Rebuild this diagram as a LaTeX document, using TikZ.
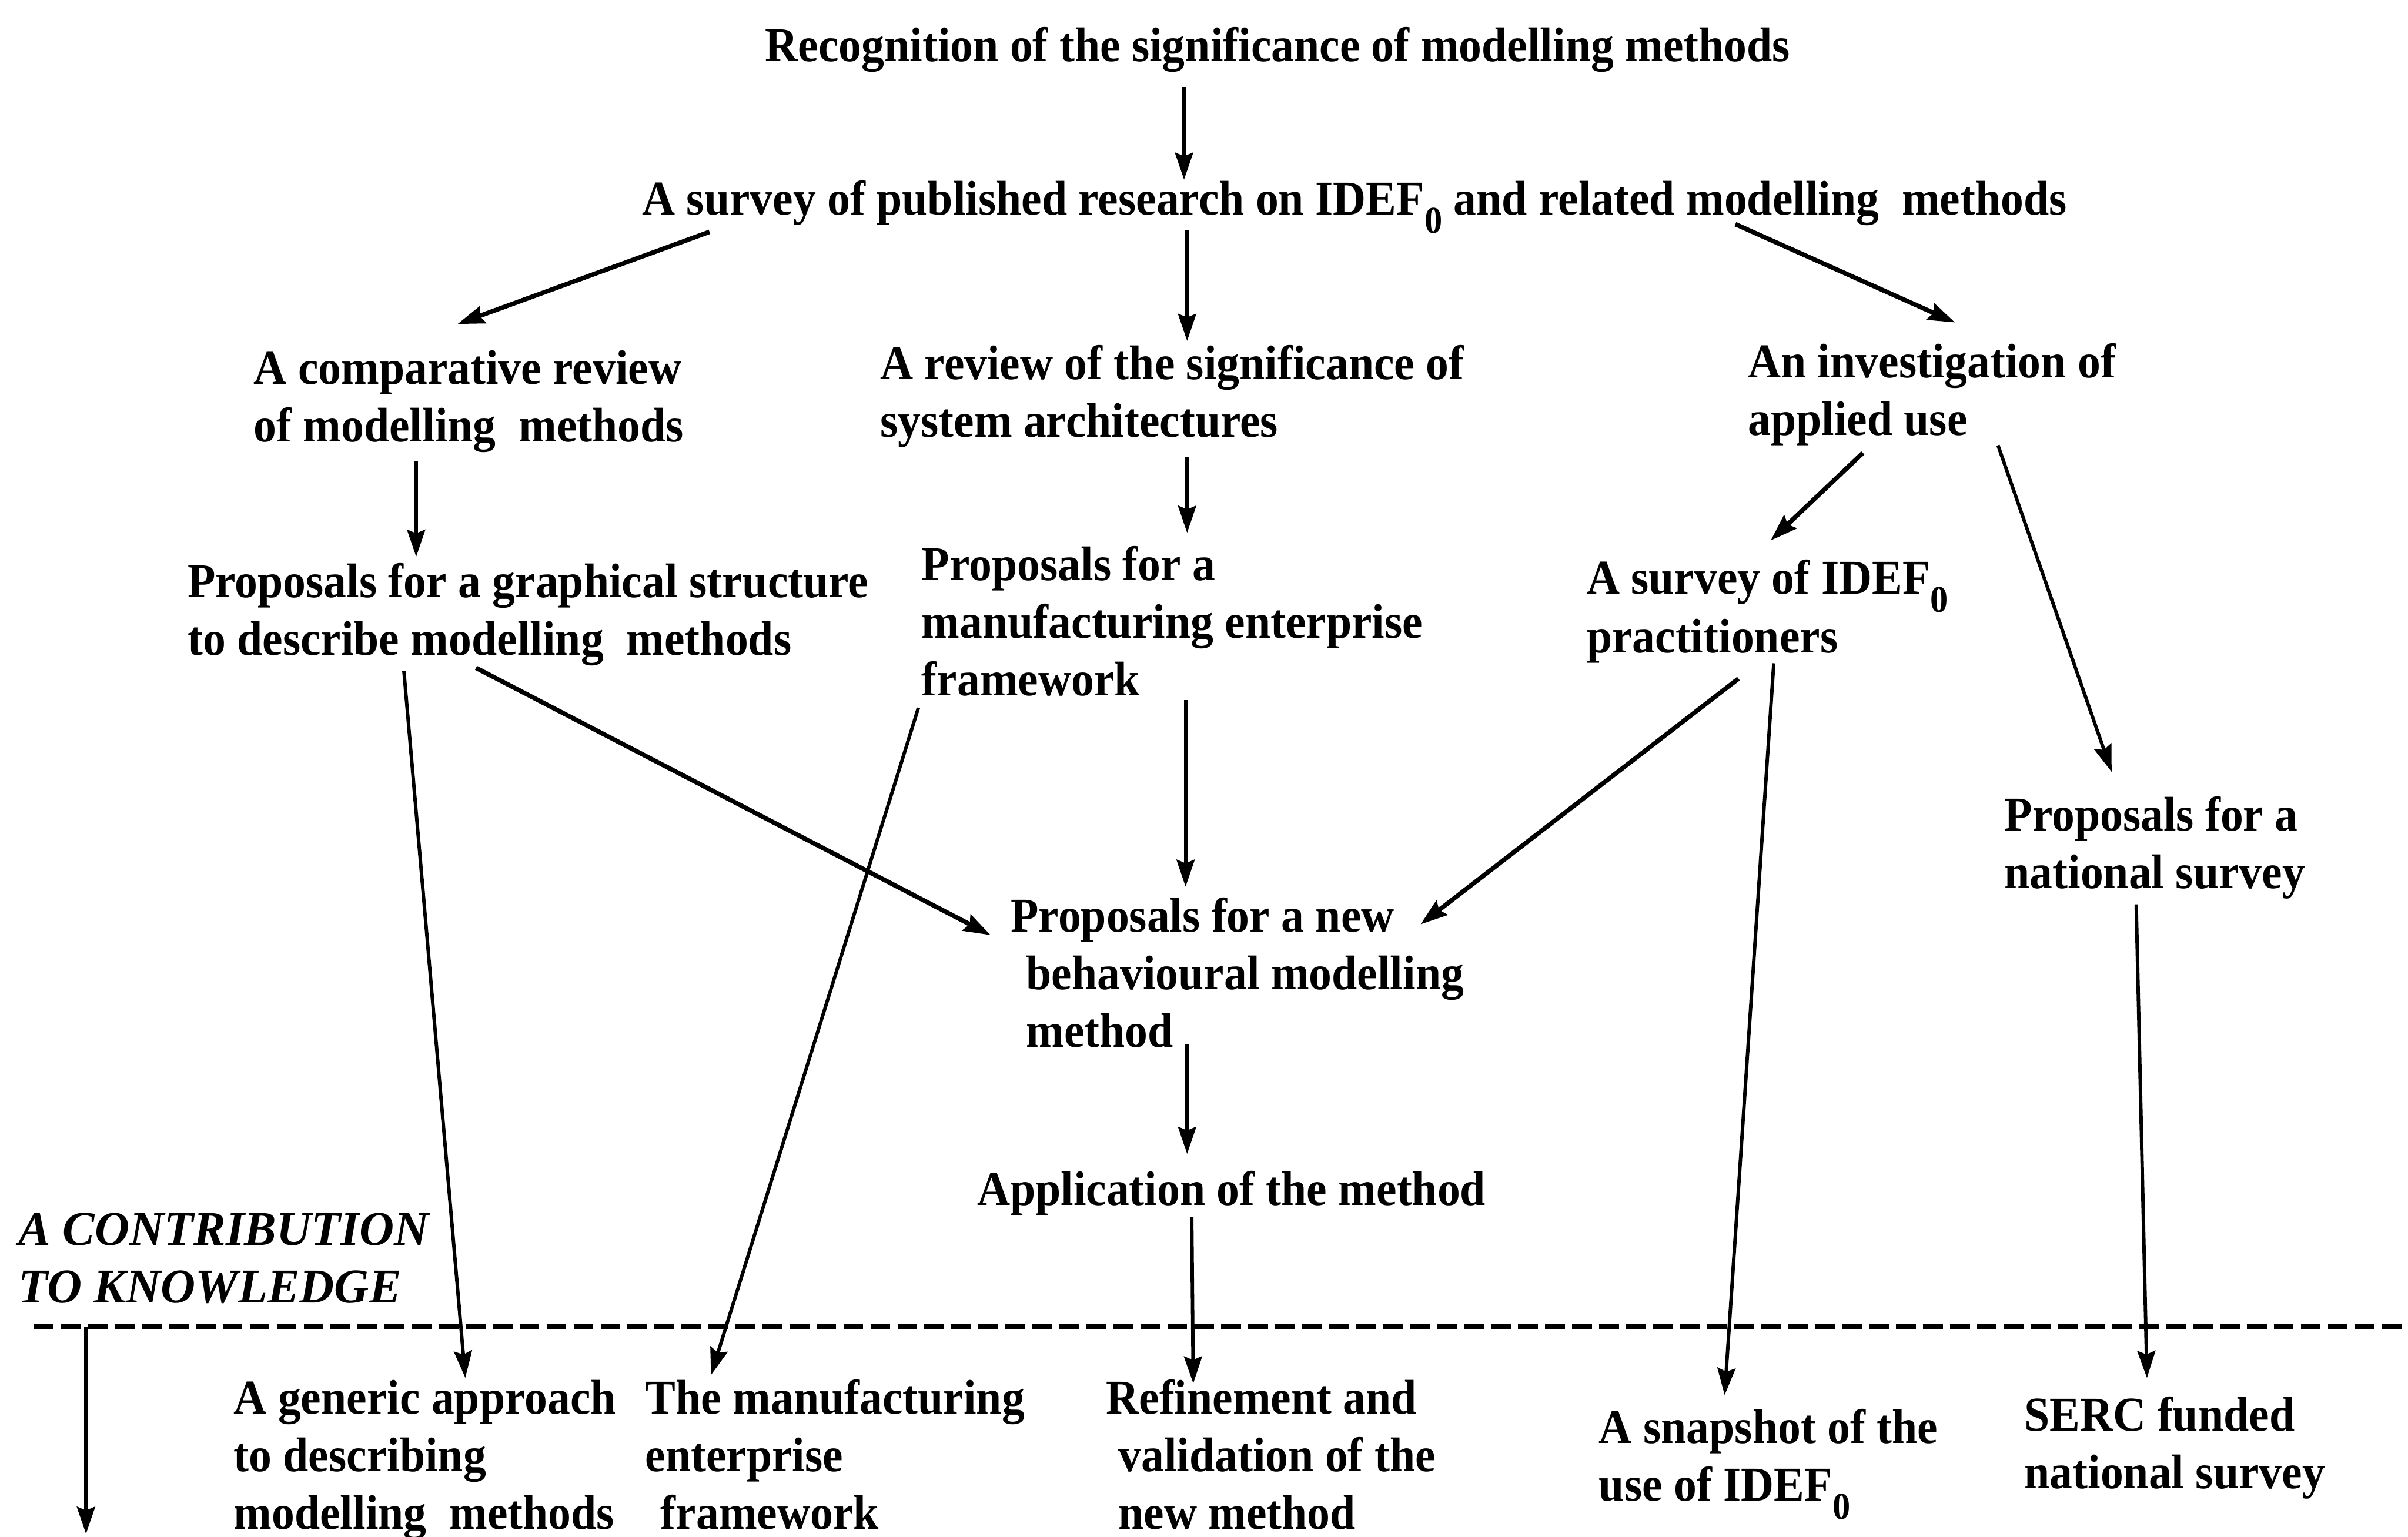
\documentclass[tikz,border=0pt]{standalone}
\usepackage{fontspec}
\setmainfont{Liberation Serif}[FakeStretch=0.94]
\newfontfamily\slantfont{Liberation Serif}[FakeStretch=0.99]
\usetikzlibrary{arrows.meta}
% IDEF with its lowered zero
\newcommand\idefzero{IDEF\raisebox{-10pt}{\fontsize{21}{21}\selectfont 0}}
% block of left-aligned lines whose baseline is that of the first line
\newcommand\lines[1]{\begin{tabular}[t]{@{}l@{}}#1\end{tabular}}
\begin{document}
\begin{tikzpicture}[x=0.03cm,y=-0.03cm,
  txt/.style={inner sep=0pt, anchor=base west,
              font=\bfseries\fontsize{27}{32}\selectfont},
  arr/.style={line width=1.9pt, -{Stealth[length=15pt,width=10pt,inset=2pt]}},
  arrb/.style={arr, line width=2.5pt},
  kline/.style={line width=2.4pt, dash pattern=on 11pt off 4pt}]
\useasboundingbox (0,0) rectangle (1568,1001);

% ---- research steps ----
\node[txt, anchor=base] (t1) at (832,40) {Recognition of the significance of modelling methods};
\node[txt] (t2) at (418,140) {A survey of published research on \idefzero{} and related modelling\ \ methods};
\node[txt] (cmp) at (165,250) {\lines{A comparative review\\of modelling\ \ methods}};
\node[txt] (rev) at (573,247) {\lines{A review of the significance of\\system architectures}};
\node[txt] (inv) at (1138,246) {\lines{An investigation of\\applied use}};
\node[txt] (gra) at (122,389) {\lines{Proposals for a graphical structure\\to describe modelling\ \ methods}};
\node[txt] (man) at (600,378) {\lines{Proposals for a\\manufacturing enterprise\\framework}};
\node[txt] (sur) at (1033,387) {\lines{A survey of \idefzero\\practitioners}};
\node[txt] (nat) at (1305,541) {\lines{Proposals for a\\national survey}};
\node[txt] (new) at (658,607) {\lines{Proposals for a new\\\hspace*{0.3cm}behavioural modelling\\\hspace*{0.3cm}method}};
\node[txt] (app) at (636,785) {Application of the method};

% ---- contributions ----
\node[txt, font=\slantfont\bfseries\itshape\fontsize{27}{32}\selectfont] (ctb) at (12,811) {\lines{A CONTRIBUTION\\TO KNOWLEDGE}};
\node[txt] (gen) at (152,921) {\lines{A generic approach\\to describing\\modelling\ \ methods}};
\node[txt] (mfw) at (420,921) {\lines{The manufacturing\\enterprise\\\hspace*{0.3cm}framework}};
\node[txt] (ref) at (720,921) {\lines{Refinement and\\\hspace*{0.24cm}validation of the\\\hspace*{0.24cm}new method}};
\node[txt] (snp) at (1041,940) {\lines{A snapshot of the\\use of \idefzero}};
\node[txt] (serc) at (1318,932) {\lines{SERC funded\\national survey}};

% dividing line and the downward contribution arrow
\coordinate (dl) at (22,864);
\coordinate (dr) at (1568,864);
\coordinate (kt) at (56,864);
\coordinate (kb) at (56,999);
\draw[kline] (dl) -- (dr);
\draw[arr, line width=2.2pt] (kt) -- (kb);

% ---- connectors ----
\draw[arr]  ([shift={(-61,16.5)}]t1.base)   -- ([shift={(353,-23)}]t2.base west);
\draw[arrb] ([shift={(44,11)}]t2.base west) -- ([shift={(133,-39)}]cmp.base west);
\draw[arr]  ([shift={(355,10)}]t2.base west) -- ([shift={(200,-25)}]rev.base west);
\draw[arrb] ([shift={(712,6)}]t2.base west) -- ([shift={(135,-36)}]inv.base west);
\draw[arr]  ([shift={(106,50)}]cmp.base west) -- ([shift={(149,-26.4)}]gra.base west);
\draw[arr]  ([shift={(200,51)}]rev.base west) -- ([shift={(173,-31)}]man.base west);
\draw[arrb] ([shift={(75,49)}]inv.base west) -- ([shift={(120,-35)}]sur.base west);
\draw[arr]  ([shift={(163,44)}]inv.base west) -- ([shift={(70,-38.3)}]nat.base west);
\draw[arr]  ([shift={(141,48)}]gra.base west) -- ([shift={(151,-23.6)}]gen.base west);
\draw[arrb] ([shift={(188,46)}]gra.base west) -- ([shift={(-13,2)}]new.base west);
\draw[arr]  ([shift={(-2,83)}]man.base west) -- ([shift={(43,-25.5)}]mfw.base west);
\draw[arr]  ([shift={(172,78)}]man.base west) -- ([shift={(114,-29.5)}]new.base west);
\draw[arrb] ([shift={(99,55)}]sur.base west) -- ([shift={(267,-5)}]new.base west);
\draw[arr]  ([shift={(122,45)}]sur.base west) -- ([shift={(82,-31.4)}]snp.base west);
\draw[arr]  ([shift={(115,73.4)}]new.base west) -- ([shift={(137,-33.5)}]app.base west);
\draw[arr]  ([shift={(140,7.6)}]app.base west) -- ([shift={(57,-20)}]ref.base west);
\draw[arr]  ([shift={(86,48)}]nat.base west) -- ([shift={(80,-34.6)}]serc.base west);
\end{tikzpicture}
\end{document}
